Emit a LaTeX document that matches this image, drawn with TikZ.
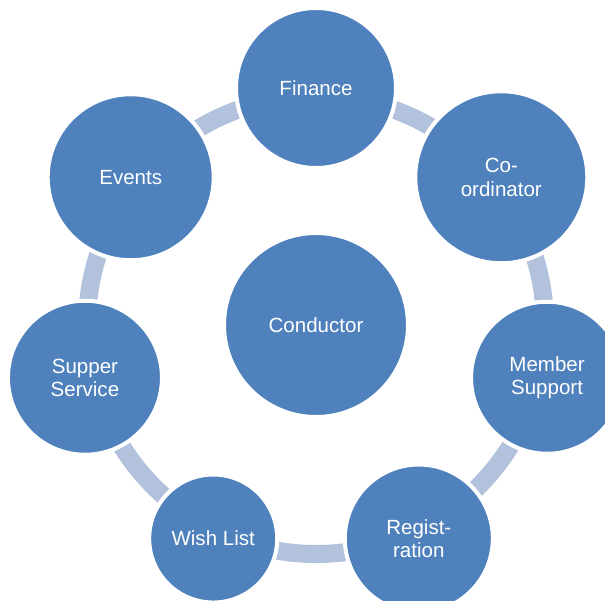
\documentclass[tikz,border=0pt]{standalone}
\usepackage{fontspec}
\setmainfont{Liberation Sans}
\usetikzlibrary{positioning}
\definecolor{bubbleblue}{RGB}{79,129,189}
\definecolor{ringblue}{RGB}{178,194,221}
\newcommand{\ringarc}[1]{\draw[ringlink] ([shift={(#1:229)}]ctr) arc[start angle=#1, delta angle=-51.43, radius=229];}
\tikzset{
  bubble/.style={circle, fill=bubbleblue, draw=white, line width=3pt, text=white, align=center, inner sep=0pt, font=\fontsize{15.4}{17.6}\selectfont},
  ringlink/.style={draw=ringblue, line width=13.5pt}
}
\begin{document}
\begin{tikzpicture}[x=0.75pt, y=0.75pt]

	\clip (0,0) rectangle (605,600);
	\coordinate (ctr) at (316,275);

	\ringarc{90}
	\ringarc{38.57}
	\ringarc{-12.86}
	\ringarc{-64.29}
	\ringarc{-115.71}
	\ringarc{-167.14}
	\ringarc{141.43}

	\node[bubble, minimum size=138pt] (conductor) at (ctr) {Conductor};

	\node[bubble, minimum size=120pt] (finance) at ([shift={(90:237)}]ctr) {Finance};
	\node[bubble, minimum size=129pt] (coord) at ([shift={(38.57:237)}]ctr) {Co-\\ordinator};
	\node[bubble, minimum size=114pt] (member) at ([shift={(-12.86:237)}]ctr) {Member\\Support};
	\node[bubble, minimum size=111pt] (regist) at ([shift={(-64.29:237)}]ctr) {Regist-\\ration};
	\node[bubble, minimum size=96pt] (wishlist) at ([shift={(-115.71:237)}]ctr) {Wish List};
	\node[bubble, minimum size=115.5pt] (supper) at ([shift={(-167.14:237)}]ctr) {Supper\\Service};
	\node[bubble, minimum size=124.5pt] (events) at ([shift={(141.43:237)}]ctr) {Events};

\end{tikzpicture}
\end{document}
